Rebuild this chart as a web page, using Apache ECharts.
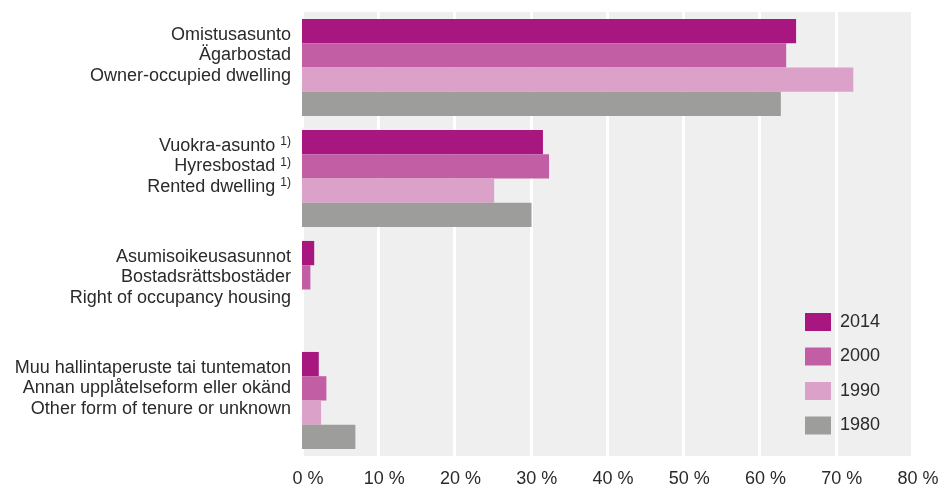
<!DOCTYPE html>
<html><head><meta charset="utf-8">
<script src="https://cdn.jsdelivr.net/npm/echarts@6/dist/echarts.min.js"></script>
<style>html,body{margin:0;padding:0;background:#fff}#c{width:939px;height:487px}</style>
</head><body><div id="c"></div>
<script>
var categories = [
  "Omistusasunto\nÄgarbostad\nOwner-occupied dwelling",
  "Vuokra-asunto {sup|1)}\nHyresbostad {sup|1)}\nRented dwelling {sup|1)}",
  "Asumisoikeusasunnot\nBostadsrättsbostäder\nRight of occupancy housing",
  "Muu hallintaperuste tai tuntematon\nAnnan upplåtelseform eller okänd\nOther form of tenure or unknown"
];
var seriesNames = ["2014", "2000", "1990", "1980"];
var v2014 = [64.8, 31.6, 1.6, 2.2];
var v2000 = [63.5, 32.4, 1.1, 3.2];
var v1990 = [72.3, 25.2, null, 2.5];
var v1980 = [62.8, 30.1, null, 7.0];
var xTicks = [0, 10, 20, 30, 40, 50, 60, 70, 80];
var colors = ["#a8177f", "#c15ea4", "#dca1c9", "#9d9d9c"];

var values = [v2014, v2000, v1990, v1980];
var font = "Liberation Sans, Arial, sans-serif";
var chart = echarts.init(document.getElementById('c'));
chart.setOption({
  animation: false,
  grid: {left: 302, right: 27, top: 12, bottom: 31, show: true, backgroundColor: '#efefef', borderWidth: 0, containLabel: false, outerBoundsMode: 'none'},
  legend: {
    orient: 'vertical', left: 805, top: 313, padding: 0,
    itemWidth: 26, itemHeight: 18, itemGap: 16.5,
    icon: 'rect',
    data: seriesNames,
    textStyle: {fontFamily: font, fontSize: 18, color: '#2a2a2a', padding: [0,0,0,4]}
  },
  xAxis: {
    type: 'value', min: xTicks[0], max: xTicks[xTicks.length-1], interval: 10,
    axisLine: {show: false}, axisTick: {show: false},
    splitLine: {show: true, lineStyle: {color: '#ffffff', width: 3}},
    axisLabel: {fontFamily: font, fontSize: 18, color: '#2a2a2a', margin: 14, padding: [0,0,0,12],
      formatter: function(v){ return v + ' %'; }}
  },
  yAxis: {
    type: 'category', inverse: true, data: categories,
    axisLine: {show: false}, axisTick: {show: false},
    axisLabel: {
      fontFamily: font, fontSize: 18, color: '#2a2a2a', lineHeight: 20.5, margin: 11,
      align: 'right', verticalAlign: 'middle', padding: [0, 0, 24, 0],
      rich: {sup: {fontFamily: font, fontSize: 12, lineHeight: 20.5, verticalAlign: 'top', color: '#2a2a2a', padding: [0,0,5,0]}}
    }
  },
  series: seriesNames.map(function(n, i){
    return {
      name: n, type: 'bar', data: values[i], barCategoryGap: '12.5%', barGap: '0%',
      itemStyle: {color: colors[i]}
    };
  })
});
</script></body></html>
